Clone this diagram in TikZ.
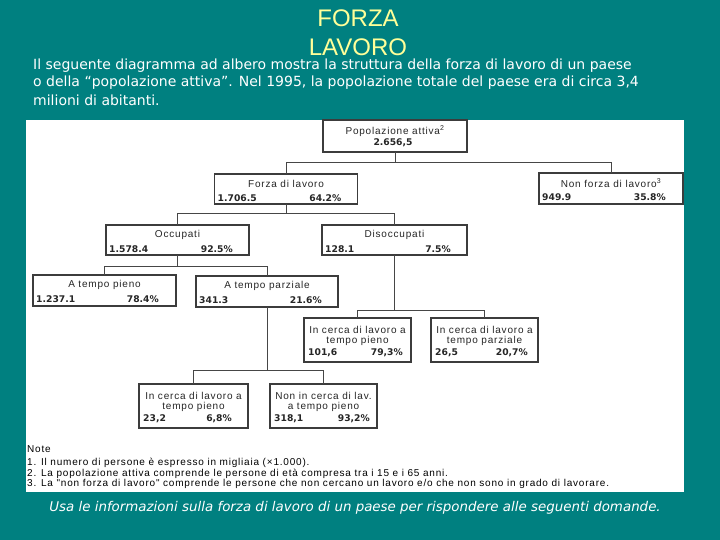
\documentclass[tikz,border=0pt]{standalone}
\usepackage{fontspec}
\setmainfont{Liberation Sans}
\newfontfamily\boxfont[LetterSpace=8]{Liberation Sans}
\newfontfamily\notefont[LetterSpace=8]{Liberation Sans}
\newfontfamily\numfont{DejaVu Sans}
\newfontfamily\parfont{DejaVu Sans}
\usetikzlibrary{calc}
\definecolor{bgteal}{RGB}{0,128,128}
\definecolor{titleyellow}{RGB}{255,255,153}
\definecolor{boxline}{RGB}{60,60,60}
\definecolor{connline}{RGB}{70,70,70}
\tikzset{
  box/.style={draw=boxline, line width=1.1pt, fill=white, inner sep=0pt, outer sep=0pt},
  lab/.style={font=\boxfont\fontsize{10}{11}\selectfont, inner sep=0pt, text=black!85},
  num/.style={font=\numfont\bfseries\fontsize{9.2}{10}\selectfont, inner sep=0pt, text=black!85},
  conn/.style={draw=connline, line width=1pt},
  para/.style={font=\parfont\fontsize{14}{16}\selectfont, text=white, inner sep=0pt, anchor=west},
  note/.style={font=\notefont\fontsize{10}{11}\selectfont, text=black, inner sep=0pt, anchor=west},
  ttl/.style={font=\fontsize{24}{26}\selectfont, text=titleyellow, inner sep=0pt}
}
\begin{document}
\begin{tikzpicture}[x=1pt,y=-1pt]
\useasboundingbox (0,0) rectangle (720,540);
\fill[bgteal] (0,0) rectangle (720,540);
\fill[white] (26,120) rectangle (684,492);

% title and intro
\node[ttl] (t1) at (358,18) {FORZA};
\node[ttl] (t2) at (358,47) {LAVORO};
\node[para] (p1) at (33,66) {Il seguente diagramma ad albero mostra la struttura della forza di lavoro di un paese};
\node[para] (p2) at (33,83) {o della “popolazione attiva”. Nel 1995, la popolazione totale del paese era di circa 3,4};
\node[para] (p3) at (33,100) {milioni di abitanti.};

% boxes
\node[box, minimum width=144pt, minimum height=32pt] (pop) at (395,136) {};
\node[box, minimum width=143pt, minimum height=30pt] (forza) at (286,189) {};
\node[box, minimum width=144pt, minimum height=31pt] (nonf) at (611,188.5) {};
\node[box, minimum width=143pt, minimum height=30pt] (occ) at (177.5,240) {};
\node[box, minimum width=145pt, minimum height=30pt] (dis) at (394.5,240) {};
\node[box, minimum width=143pt, minimum height=31pt] (pieno) at (104.5,290.5) {};
\node[box, minimum width=142pt, minimum height=31pt] (parz) at (267,291.5) {};
\node[box, minimum width=107pt, minimum height=44pt] (dtp) at (357.5,340) {};
\node[box, minimum width=107pt, minimum height=44pt] (dtpz) at (484.5,340) {};
\node[box, minimum width=109pt, minimum height=44pt] (ptp) at (193.5,406) {};
\node[box, minimum width=107pt, minimum height=44pt] (pnon) at (323.5,406) {};

% connectors
\coordinate (j1) at ($(pop.south)+(0,11)$);
\coordinate (j2) at ($(forza.south)+(0,10)$);
\coordinate (j3) at ($(occ.south)+(0,11)$);
\coordinate (j4) at ($(dis.south)+(0,55)$);
\coordinate (j5) at ($(parz.south)+(0,63)$);
\draw[conn] (pop.south) -- (j1);
\draw[conn] (forza.north) |- (j1);
\draw[conn] (nonf.north) |- (j1);
\draw[conn] (forza.south) -- (j2);
\draw[conn] (occ.north) |- (j2);
\draw[conn] (dis.north) |- (j2);
\draw[conn] (occ.south) -- (j3);
\draw[conn] (pieno.north) |- (j3);
\draw[conn] (parz.north) |- (j3);
\draw[conn] (dis.south) -- (j4);
\draw[conn] (dtp.north) |- (j4);
\draw[conn] (dtpz.north) |- (j4);
\draw[conn] (parz.south) -- (j5);
\draw[conn] (ptp.north) |- (j5);
\draw[conn] (pnon.north) |- (j5);

% box texts
\node[lab] (popL) at ($(pop.north)+(0,11)$) {Popolazione attiva\textsuperscript{2}};
\node[num] (popN) at ($(pop.north)+(-2,23)$) {2.656,5};

\node[lab] (forzaL) at ($(forza.north)+(0,10)$) {Forza di lavoro};
\node[num, anchor=west] (forzaA) at ($(forza.north west)+(3,24)$) {1.706.5};
\node[num, anchor=east] (forzaB) at ($(forza.north east)+(-16,24)$) {64.2\%};

\node[lab] (nonfL) at ($(nonf.north)+(0,10)$) {Non forza di lavoro\textsuperscript{3}};
\node[num, anchor=west] (nonfA) at ($(nonf.north west)+(3,24)$) {949.9};
\node[num, anchor=east] (nonfB) at ($(nonf.north east)+(-17,24)$) {35.8\%};

\node[lab] (occL) at ($(occ.north)+(0,10)$) {Occupati};
\node[num, anchor=west] (occA) at ($(occ.north west)+(3,24)$) {1.578.4};
\node[num, anchor=east] (occB) at ($(occ.north east)+(-16,24)$) {92.5\%};

\node[lab] (disL) at ($(dis.north)+(0,10)$) {Disoccupati};
\node[num, anchor=west] (disA) at ($(dis.north west)+(3,24)$) {128.1};
\node[num, anchor=east] (disB) at ($(dis.north east)+(-16,24)$) {7.5\%};

\node[lab] (pienoL) at ($(pieno.north)+(0,10)$) {A tempo pieno};
\node[num, anchor=west] (pienoA) at ($(pieno.north west)+(3,24)$) {1.237.1};
\node[num, anchor=east] (pienoB) at ($(pieno.north east)+(-17,24)$) {78.4\%};

\node[lab] (parzL) at ($(parz.north)+(0,10)$) {A tempo parziale};
\node[num, anchor=west] (parzA) at ($(parz.north west)+(3,24)$) {341.3};
\node[num, anchor=east] (parzB) at ($(parz.north east)+(-16,24)$) {21.6\%};

\node[lab] (dtpL1) at ($(dtp.north)+(0,12)$) {In cerca di lavoro a};
\node[lab] (dtpL2) at ($(dtp.north)+(0,23)$) {tempo pieno};
\node[num, anchor=west] (dtpA) at ($(dtp.north west)+(4,35)$) {101,6};
\node[num, anchor=east] (dtpB) at ($(dtp.north east)+(-8,35)$) {79,3\%};

\node[lab] (dtpzL1) at ($(dtpz.north)+(0,12)$) {In cerca di lavoro a};
\node[lab] (dtpzL2) at ($(dtpz.north)+(0,23)$) {tempo parziale};
\node[num, anchor=west] (dtpzA) at ($(dtpz.north west)+(4,35)$) {26,5};
\node[num, anchor=east] (dtpzB) at ($(dtpz.north east)+(-10,35)$) {20,7\%};

\node[lab] (ptpL1) at ($(ptp.north)+(0,12)$) {In cerca di lavoro a};
\node[lab] (ptpL2) at ($(ptp.north)+(0,23)$) {tempo pieno};
\node[num, anchor=west] (ptpA) at ($(ptp.north west)+(4,35)$) {23,2};
\node[num, anchor=east] (ptpB) at ($(ptp.north east)+(-16,35)$) {6,8\%};

\node[lab] (pnonL1) at ($(pnon.north)+(0,12)$) {Non in cerca di lav.};
\node[lab] (pnonL2) at ($(pnon.north)+(0,23)$) {a tempo pieno};
\node[num, anchor=west] (pnonA) at ($(pnon.north west)+(4,35)$) {318,1};
\node[num, anchor=east] (pnonB) at ($(pnon.north east)+(-7,35)$) {93,2\%};

% notes
\node[note] (n0) at (27,449) {Note};
\node[note] (n1) at (27,463) {1. Il numero di persone è espresso in migliaia (×1.000).};
\node[note] (n2) at (27,473.5) {2. La popolazione attiva comprende le persone di età compresa tra i 15 e i 65 anni.};
\node[note] (n3) at (27,484) {3. La "non forza di lavoro" comprende le persone che non cercano un lavoro e/o che non sono in grado di lavorare.};

% bottom line
\node[font=\parfont\itshape\fontsize{13.4}{15}\selectfont, text=white, inner sep=0pt] (q) at (355,508) {Usa le informazioni sulla forza di lavoro di un paese per rispondere alle seguenti domande.};
\end{tikzpicture}
\end{document}
